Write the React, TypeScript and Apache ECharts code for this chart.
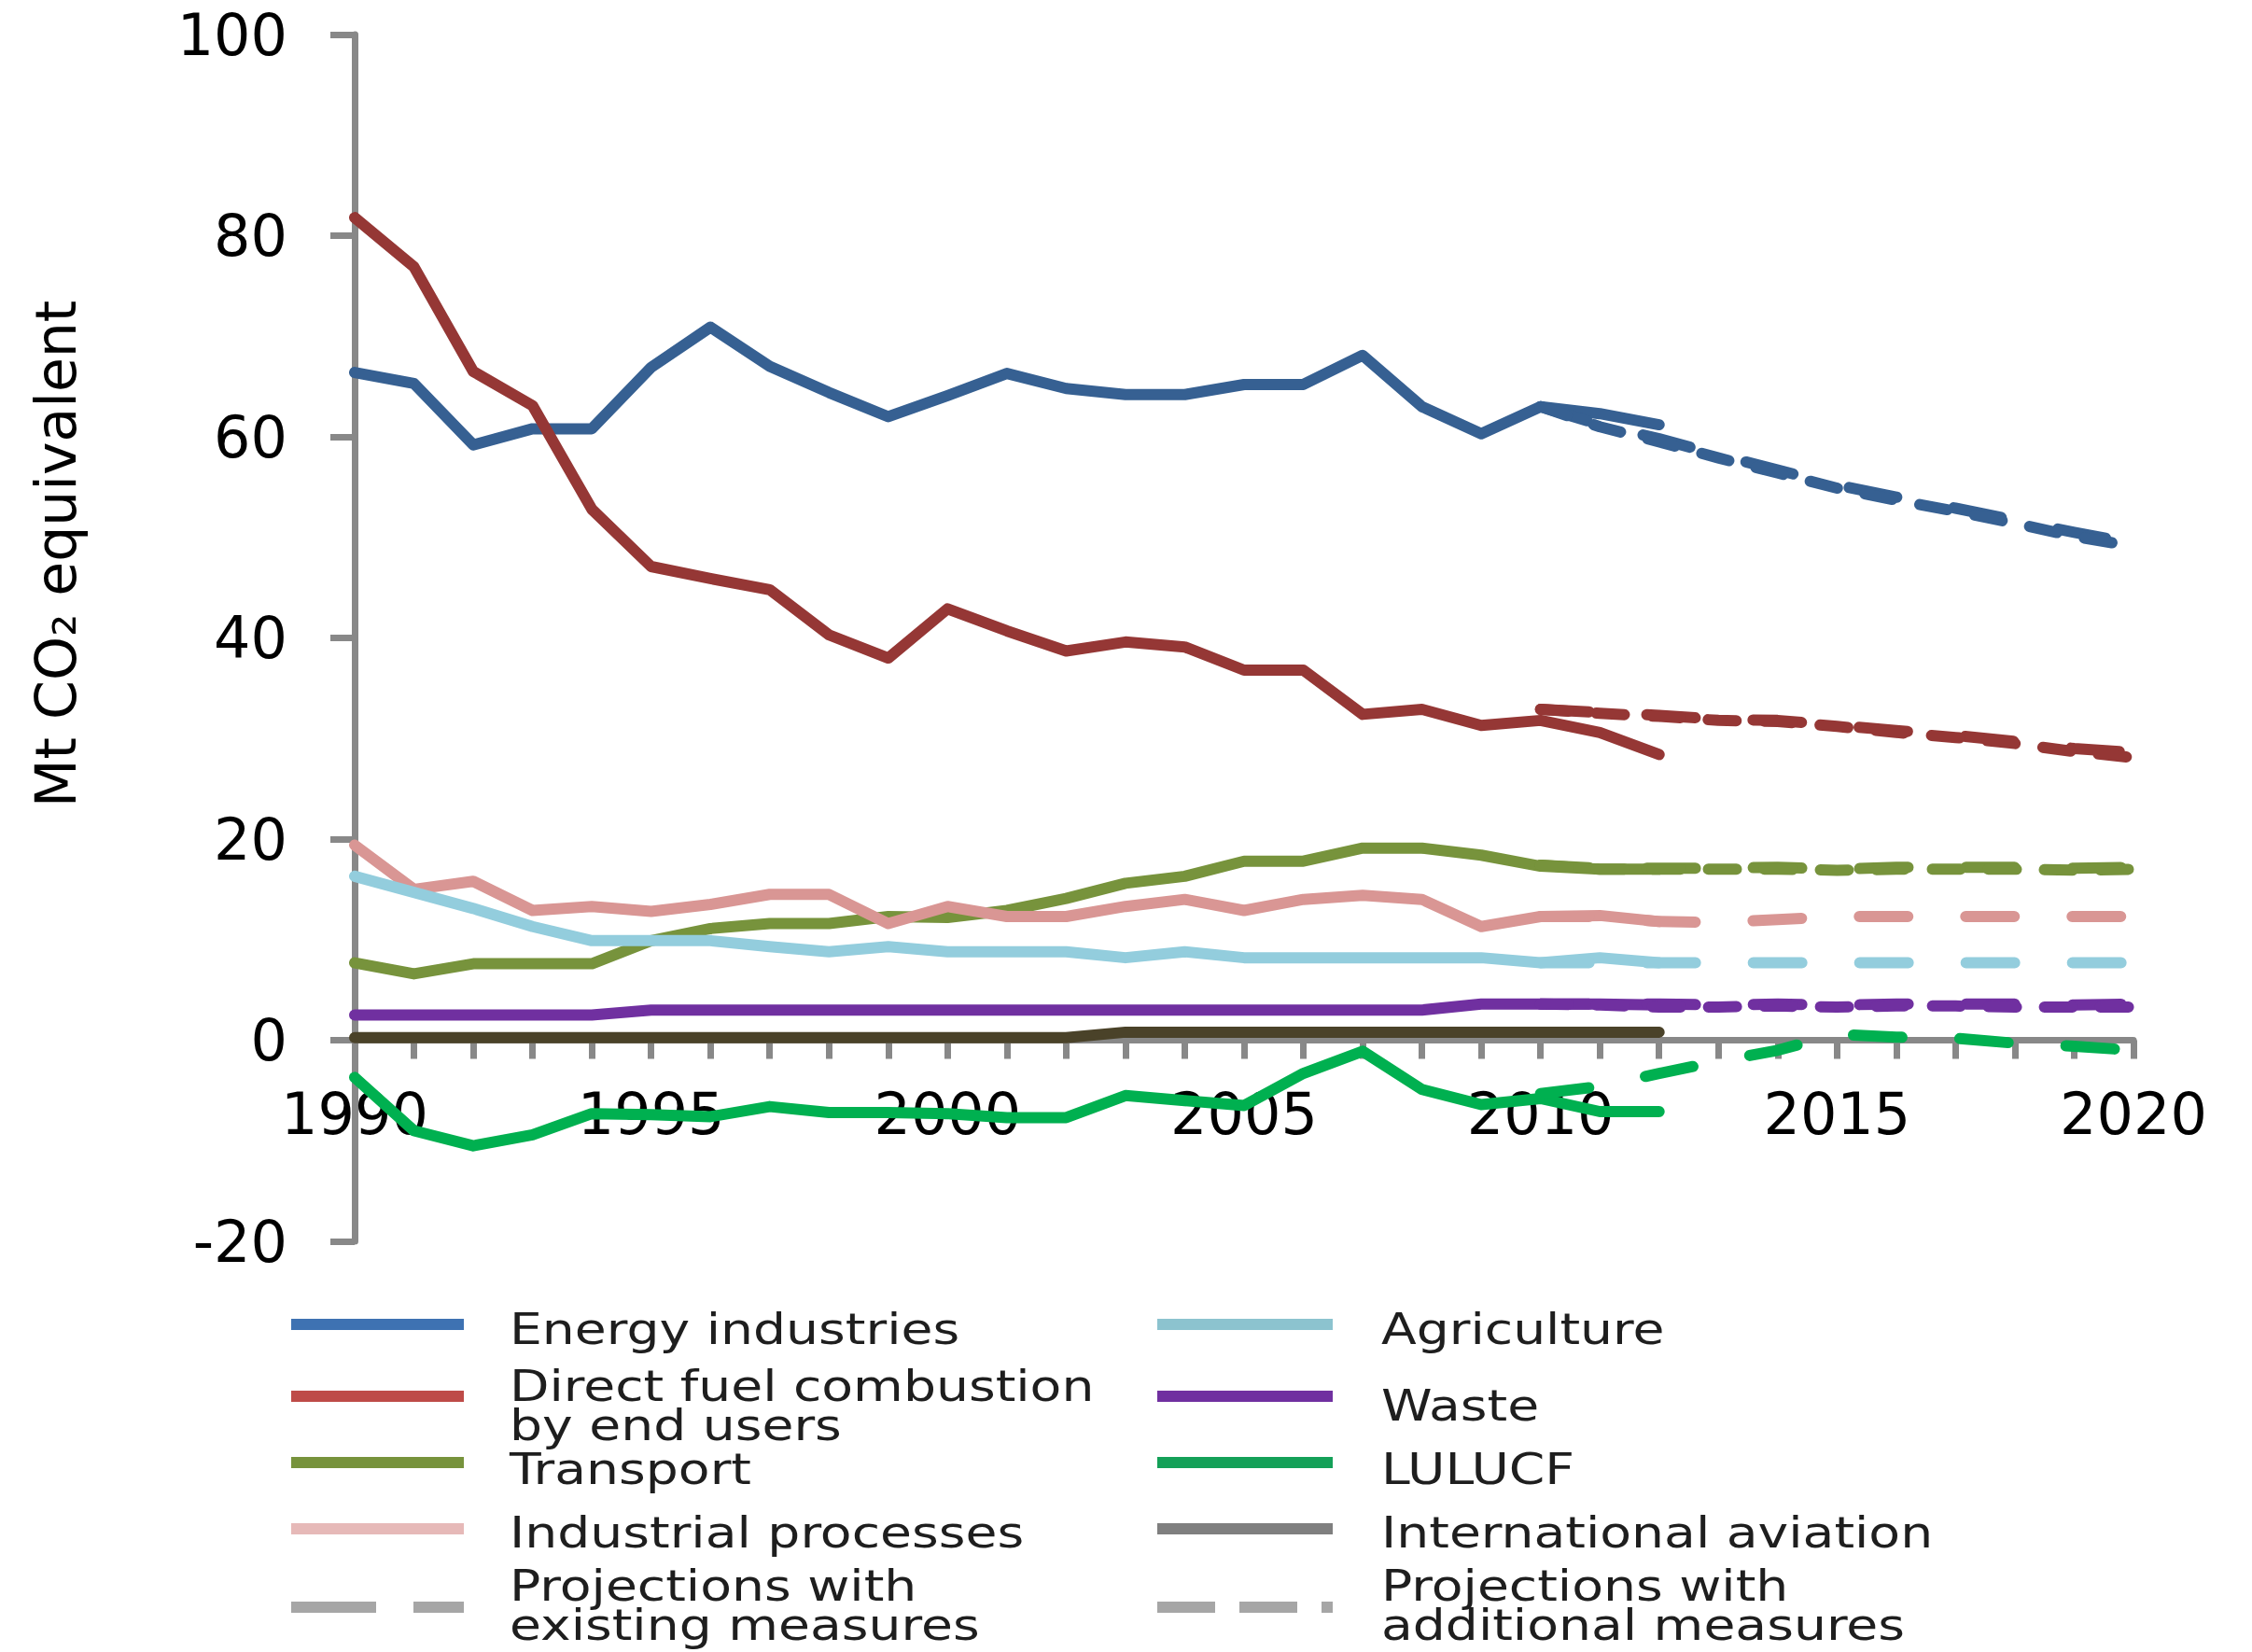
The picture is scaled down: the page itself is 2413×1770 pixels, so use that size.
import React, { useEffect, useRef } from "react";
import * as echarts from "echarts";

// ---------- data ----------
const histYears = [1990, 1991, 1992, 1993, 1994, 1995, 1996, 1997, 1998, 1999, 2000, 2001, 2002, 2003, 2004, 2005, 2006, 2007, 2008, 2009, 2010, 2011, 2012];
const projYears = [2010, 2011, 2012, 2013, 2014, 2015, 2016, 2017, 2018, 2019, 2020];

const energyIndustries = [66.4, 65.3, 59.2, 60.8, 60.8, 66.9, 70.9, 67.0, 64.4, 62.0, 64.1, 66.3, 64.8, 64.2, 64.2, 65.2, 65.2, 68.1, 63.0, 60.3, 63.0, 62.3, 61.2];
const directFuel = [81.8, 76.9, 66.5, 63.1, 52.8, 47.1, 45.9, 44.8, 40.3, 38.0, 42.9, 40.7, 38.7, 39.6, 39.1, 36.8, 36.8, 32.4, 32.9, 31.3, 31.8, 30.6, 28.4];
const transport = [7.7, 6.6, 7.6, 7.6, 7.6, 9.9, 11.1, 11.6, 11.6, 12.3, 12.2, 12.9, 14.1, 15.6, 16.3, 17.8, 17.8, 19.1, 19.1, 18.4, 17.3, 17.0, 17.0];
const industrialProcesses = [19.4, 15.0, 15.8, 12.9, 13.3, 12.8, 13.5, 14.5, 14.5, 11.6, 13.3, 12.3, 12.3, 13.3, 14.0, 12.9, 14.0, 14.4, 14.0, 11.3, 12.3, 12.4, 11.8];
const agriculture = [16.3, 14.7, 13.1, 11.3, 9.9, 9.9, 9.9, 9.3, 8.8, 9.3, 8.8, 8.8, 8.8, 8.2, 8.8, 8.2, 8.2, 8.2, 8.2, 8.2, 7.7, 8.2, 7.7];
const waste = [2.5, 2.5, 2.5, 2.5, 2.5, 3.0, 3.0, 3.0, 3.0, 3.0, 3.0, 3.0, 3.0, 3.0, 3.0, 3.0, 3.0, 3.0, 3.0, 3.6, 3.6, 3.6, 3.5];
const lulucf = [-3.7, -9.0, -10.5, -9.4, -7.3, -7.4, -7.6, -6.6, -7.2, -7.2, -7.3, -7.7, -7.7, -5.5, -6.0, -6.5, -3.3, -1.1, -4.9, -6.4, -5.8, -7.1, -7.1];
const internationalAviation = [0.25, 0.25, 0.25, 0.25, 0.25, 0.25, 0.25, 0.25, 0.25, 0.25, 0.25, 0.25, 0.25, 0.8, 0.8, 0.8, 0.8, 0.8, 0.8, 0.8, 0.8, 0.8, 0.8];

// projections with existing measures (WEM) / additional measures (WAM)
const energyWEM = [63.0, 61.2, 59.8, 58.2, 56.7, 55.2, 54.0, 52.9, 51.7, 50.5, 49.4];
const energyWAM = [63.0, 61.0, 59.5, 57.9, 56.4, 54.9, 53.7, 52.6, 51.4, 50.1, 49.1];
const directFuelWEM = [32.9, 32.6, 32.3, 31.9, 31.8, 31.3, 30.8, 30.3, 29.7, 29.0, 28.6];
const directFuelWAM = [32.9, 32.5, 32.2, 31.8, 31.7, 31.2, 30.6, 30.1, 29.5, 28.7, 28.1];
const transportWEM = [17.4, 17.1, 17.1, 17.1, 17.2, 17.0, 17.2, 17.2, 17.2, 17.1, 17.2];
const transportWAM = [17.4, 17.0, 17.0, 17.0, 17.0, 16.9, 17.0, 17.0, 17.0, 16.9, 17.0];
const industrialWEM = [12.3, 12.3, 11.8, 11.7, 12.0, 12.3, 12.3, 12.3, 12.3, 12.3, 12.3];
const agricultureWEM = [7.7, 7.7, 7.7, 7.7, 7.7, 7.7, 7.7, 7.7, 7.7, 7.7, 7.7];
const wasteWEM = [3.6, 3.6, 3.6, 3.5, 3.6, 3.5, 3.6, 3.6, 3.6, 3.5, 3.6];
const wasteWAM = [3.6, 3.5, 3.3, 3.3, 3.4, 3.3, 3.4, 3.4, 3.3, 3.3, 3.3];
const lulucfWEM = [-5.3, -4.6, -3.3, -2.1, -1.0, 0.6, 0.3, 0.2, -0.3, -0.6, -1.0];

const xLabelYears = [1990, 1995, 2000, 2005, 2010, 2015, 2020];
const yAxisTitle = "Mt CO\u2082 equivalent";

const legendColumn1 = ["Energy industries", "Direct fuel combustion\nby end users", "Transport", "Industrial processes", "Projections with\nexisting measures"];
const legendColumn2 = ["Agriculture", "Waste", "LULUCF", "International aviation", "Projections with\nadditional measures"];

// ---------- styles ----------
const C = {
  energy: "#366092",
  direct: "#953735",
  transport: "#77933C",
  industrial: "#D99694",
  agriculture: "#93CDDD",
  waste: "#7030A0",
  lulucf: "#00B050",
  aviation: "#4A4229",
  axis: "#888888",
};
const LEGEND_COL1_COLORS = ["#3E72B2", "#BE4B48", "#77933C", "#E6B9B8", "#A6A6A6"];
const LEGEND_COL2_COLORS = ["#8CC3CF", "#7030A0", "#14A058", "#7F7F7F", "#A6A6A6"];
const LW = 12;
const DASH_WEM = [52, 62];
const DASH_WAM = [30, 30];
const FONT = "'DejaVu Sans', Verdana, sans-serif";

const pairs = (xs: number[], ys: number[]) => xs.map((x, i) => [x, ys[i]]);

function line(name: string, color: string, xs: number[], ys: number[], dash?: number[]) {
  return {
    type: "line",
    name,
    data: pairs(xs, ys),
    symbol: "none",
    silent: true,
    z: 3,
    lineStyle: {
      color,
      width: LW,
      type: dash ? dash : "solid",
      cap: "round",
      join: "round",
    },
    itemStyle: { color },
  };
}

function buildLegend() {
  const els: any[] = [];
  const rowsLine = [1419, 1496, 1567, 1638, 1722];
  const rowsText = [1424, 1506, 1574, 1642, 1720];
  const cols = [
    { x1: 312, x2: 497, tx: 546, labels: legendColumn1, colors: LEGEND_COL1_COLORS, lastDash: [91, 40] },
    { x1: 1240, x2: 1428, tx: 1480, labels: legendColumn2, colors: LEGEND_COL2_COLORS, lastDash: [62, 26] },
  ];
  cols.forEach((c) => {
    c.labels.forEach((label, i) => {
      const isProj = i === 4;
      els.push({
        type: "line",
        silent: true,
        shape: { x1: c.x1, y1: rowsLine[i], x2: c.x2, y2: rowsLine[i] },
        style: {
          stroke: c.colors[i],
          lineWidth: LW,
          lineDash: isProj ? c.lastDash : null,
          lineCap: "butt",
        },
      });
      els.push({
        type: "text",
        silent: true,
        x: c.tx,
        y: rowsText[i],
        scaleX: 1.2,
        style: {
          text: label,
          fill: "#1E1E1E",
          fontSize: 46,
          fontFamily: FONT,
          lineHeight: 42,
          align: "left",
          verticalAlign: "middle",
        },
      });
    });
  });
  return els;
}

export default function App() {
  const ref = useRef<HTMLDivElement>(null);

  useEffect(() => {
    if (!ref.current) return;
    const chart = echarts.init(ref.current, undefined, { renderer: "svg" });
    const option: any = {
      animation: false,
      backgroundColor: "#ffffff",
      grid: { left: 380, top: 37, width: 1906, height: 1293, containLabel: false },
      xAxis: {
        type: "value",
        min: 1990,
        max: 2020,
        interval: 1,
        splitLine: { show: false },
        axisLine: { show: true, onZero: true, lineStyle: { color: C.axis, width: 7 } },
        axisTick: { show: true, inside: false, length: 20, lineStyle: { color: C.axis, width: 7 } },
        axisLabel: {
          show: true,
          margin: -168,
          color: "#000000",
          fontSize: 62,
          fontFamily: FONT,
          formatter: (v: number) => (xLabelYears.indexOf(Math.round(v)) >= 0 ? String(Math.round(v)) : ""),
        },
      },
      yAxis: {
        type: "value",
        min: -20,
        max: 100,
        interval: 20,
        splitLine: { show: false },
        axisLine: { show: true, lineStyle: { color: C.axis, width: 7 } },
        axisTick: { show: true, inside: false, length: 26, lineStyle: { color: C.axis, width: 7 } },
        axisLabel: { show: true, margin: 72, color: "#000000", fontSize: 62, fontFamily: FONT },
        name: yAxisTitle,
        nameLocation: "middle",
        nameRotate: 90,
        nameGap: 290,
        nameTextStyle: { color: "#000000", fontSize: 60, fontFamily: FONT, padding: [0, 0, 0, 180] },
      },
      series: [
        line("Energy industries", C.energy, histYears, energyIndustries),
        line("Direct fuel combustion by end users", C.direct, histYears, directFuel),
        line("Transport", C.transport, histYears, transport),
        line("Industrial processes", C.industrial, histYears, industrialProcesses),
        line("Agriculture", C.agriculture, histYears, agriculture),
        line("Waste", C.waste, histYears, waste),
        line("LULUCF", C.lulucf, histYears, lulucf),
        line("International aviation", C.aviation, histYears, internationalAviation),
        line("Energy industries WEM", C.energy, projYears, energyWEM, DASH_WEM),
        line("Energy industries WAM", C.energy, projYears, energyWAM, DASH_WAM),
        line("Direct fuel WEM", C.direct, projYears, directFuelWEM, DASH_WEM),
        line("Direct fuel WAM", C.direct, projYears, directFuelWAM, DASH_WAM),
        line("Transport WEM", C.transport, projYears, transportWEM, DASH_WEM),
        line("Transport WAM", C.transport, projYears, transportWAM, DASH_WAM),
        line("Industrial processes WEM", C.industrial, projYears, industrialWEM, DASH_WEM),
        line("Agriculture WEM", C.agriculture, projYears, agricultureWEM, DASH_WEM),
        line("Waste WEM", C.waste, projYears, wasteWEM, DASH_WEM),
        line("Waste WAM", C.waste, projYears, wasteWAM, DASH_WAM),
        line("LULUCF WEM", C.lulucf, projYears, lulucfWEM, DASH_WEM),
      ],
      graphic: buildLegend(),
    };
    chart.setOption(option);
    return () => chart.dispose();
  }, []);

  return (
    <div
      ref={ref}
      style={{ position: "absolute", left: 0, top: 0, width: 2413, height: 1770, background: "#ffffff" }}
    />
  );
}
